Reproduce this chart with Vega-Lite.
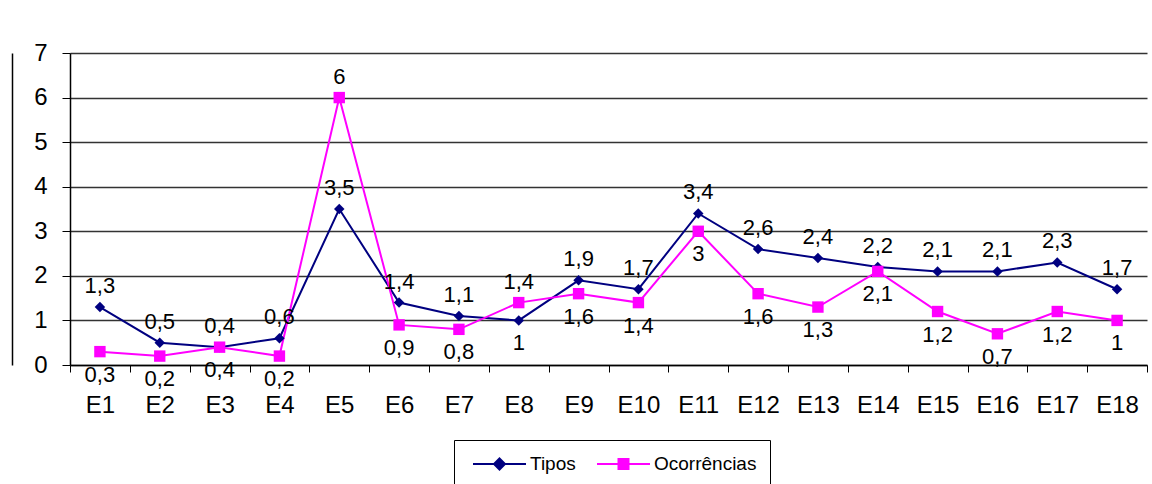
{
  "$schema": "https://vega.github.io/schema/vega-lite/v6.json",
  "width": 1077,
  "height": 312,
  "autosize": {"type": "none"},
  "padding": {"left": 70, "top": 53, "right": 5, "bottom": 119},
  "background": "white",
  "config": {
    "locale": {"number": {"decimal": ",", "thousands": ".", "grouping": [3], "currency": ["", ""]}},
    "font": "Liberation Sans",
    "view": {"stroke": null}
  },
  "data": {
    "values": [
      {"cat": "E1", "serie": "Tipos", "valor": 1.3},
      {"cat": "E2", "serie": "Tipos", "valor": 0.5},
      {"cat": "E3", "serie": "Tipos", "valor": 0.4},
      {"cat": "E4", "serie": "Tipos", "valor": 0.6},
      {"cat": "E5", "serie": "Tipos", "valor": 3.5},
      {"cat": "E6", "serie": "Tipos", "valor": 1.4},
      {"cat": "E7", "serie": "Tipos", "valor": 1.1},
      {"cat": "E8", "serie": "Tipos", "valor": 1.0},
      {"cat": "E9", "serie": "Tipos", "valor": 1.9},
      {"cat": "E10", "serie": "Tipos", "valor": 1.7},
      {"cat": "E11", "serie": "Tipos", "valor": 3.4},
      {"cat": "E12", "serie": "Tipos", "valor": 2.6},
      {"cat": "E13", "serie": "Tipos", "valor": 2.4},
      {"cat": "E14", "serie": "Tipos", "valor": 2.2},
      {"cat": "E15", "serie": "Tipos", "valor": 2.1},
      {"cat": "E16", "serie": "Tipos", "valor": 2.1},
      {"cat": "E17", "serie": "Tipos", "valor": 2.3},
      {"cat": "E18", "serie": "Tipos", "valor": 1.7},
      {"cat": "E1", "serie": "Ocorrências", "valor": 0.3},
      {"cat": "E2", "serie": "Ocorrências", "valor": 0.2},
      {"cat": "E3", "serie": "Ocorrências", "valor": 0.4},
      {"cat": "E4", "serie": "Ocorrências", "valor": 0.2},
      {"cat": "E5", "serie": "Ocorrências", "valor": 6},
      {"cat": "E6", "serie": "Ocorrências", "valor": 0.9},
      {"cat": "E7", "serie": "Ocorrências", "valor": 0.8},
      {"cat": "E8", "serie": "Ocorrências", "valor": 1.4},
      {"cat": "E9", "serie": "Ocorrências", "valor": 1.6},
      {"cat": "E10", "serie": "Ocorrências", "valor": 1.4},
      {"cat": "E11", "serie": "Ocorrências", "valor": 3},
      {"cat": "E12", "serie": "Ocorrências", "valor": 1.6},
      {"cat": "E13", "serie": "Ocorrências", "valor": 1.3},
      {"cat": "E14", "serie": "Ocorrências", "valor": 2.1},
      {"cat": "E15", "serie": "Ocorrências", "valor": 1.2},
      {"cat": "E16", "serie": "Ocorrências", "valor": 0.7},
      {"cat": "E17", "serie": "Ocorrências", "valor": 1.2},
      {"cat": "E18", "serie": "Ocorrências", "valor": 1}
    ]
  },
  "encoding": {
    "x": {
      "field": "cat",
      "type": "nominal",
      "sort": ["E1","E2","E3","E4","E5","E6","E7","E8","E9","E10","E11","E12","E13","E14","E15","E16","E17","E18"],
      "scale": {"type": "band", "paddingInner": 0, "paddingOuter": 0},
      "axis": {
        "title": null,
        "labelAngle": 0,
        "labelFontSize": 24,
        "labelColor": "black",
        "labelPadding": 21,
        "tickBand": "extent",
        "tickSize": 7,
        "tickColor": "black",
        "domainColor": "black",
        "domainWidth": 1.5,
        "grid": false
      }
    }
  },
  "layer": [
    {
      "encoding": {
        "y": {
          "field": "valor",
          "type": "quantitative",
          "scale": {"domain": [0, 7], "nice": false},
          "axis": {
            "title": null,
            "values": [0,1,2,3,4,5,6,7],
            "format": "d",
            "labelFontSize": 24,
            "labelColor": "black",
            "labelPadding": 15,
            "tickSize": 8,
            "tickColor": "black",
            "domainColor": "black",
            "domainWidth": 1.5,
            "grid": true,
            "gridColor": "#333333",
            "gridWidth": 1.3
          }
        }
      },
      "layer": [
        {
          "mark": {"type": "line", "strokeWidth": 2},
          "encoding": {
            "color": {
              "field": "serie",
              "type": "nominal",
              "sort": ["Tipos", "Ocorrências"],
              "scale": {"domain": ["Tipos", "Ocorrências"], "range": ["#000080", "#FF00FF"]},
              "legend": {
                "title": null,
                "orient": "none",
                "legendX": 384,
                "legendY": 387,
                "direction": "horizontal",
                "strokeColor": "black",
                "padding": 13,
                "symbolSize": 400,
                "symbolStrokeWidth": 2,
                "labelFontSize": 19,
                "labelColor": "black",
                "labelFont": "Liberation Sans",
                "columnPadding": 15,
                "labelOffset": 41,
                "encode": {
                  "symbols": {
                    "update": {
                      "shape": {"signal": "datum.value === 'Tipos' ? 'M-0.5,0H4.8M2.15,-0.55L2.7,0L2.15,0.55L1.6,0Z' : 'M-0.5,0H4.8M1.65,-0.5H2.65V0.5H1.65Z'"},
                      "fill": {"signal": "datum.value === 'Tipos' ? '#000080' : '#FF00FF'"},
                      "fillOpacity": {"value": 1}
                    }
                  }
                }
              }
            }
          }
        },
        {
          "transform": [{"filter": "datum.serie === 'Tipos'"}],
          "mark": {"type": "point", "shape": "diamond", "filled": true, "size": 110, "opacity": 1, "color": "#000080"}
        },
        {
          "transform": [{"filter": "datum.serie === 'Ocorrências'"}],
          "mark": {"type": "point", "shape": "square", "filled": true, "size": 130, "opacity": 1, "color": "#FF00FF"}
        },
        {
          "transform": [{"filter": "(datum.serie === 'Tipos' && datum.cat !== 'E8') || (datum.serie === 'Ocorrências' && (datum.cat === 'E5' || datum.cat === 'E8'))"}],
          "mark": {"type": "text", "dy": -21, "fontSize": 22, "color": "black", "baseline": "middle"},
          "encoding": {"text": {"field": "valor", "type": "quantitative", "format": ".1~f"}}
        },
        {
          "transform": [{"filter": "(datum.serie === 'Ocorrências' && datum.cat !== 'E5' && datum.cat !== 'E8') || (datum.serie === 'Tipos' && datum.cat === 'E8')"}],
          "mark": {"type": "text", "dy": 23, "fontSize": 22, "color": "black", "baseline": "middle"},
          "encoding": {"text": {"field": "valor", "type": "quantitative", "format": ".1~f"}}
        }
      ]
    },
    {
      "mark": {"type": "point", "opacity": 0},
      "encoding": {
        "y": {
          "field": "valor",
          "type": "quantitative",
          "scale": {"domain": [0, 7], "nice": false},
          "axis": {
            "title": null,
            "orient": "left",
            "offset": 58,
            "labels": false,
            "ticks": false,
            "grid": false,
            "domainColor": "black",
            "domainWidth": 1.5
          }
        }
      }
    }
  ],
  "resolve": {"axis": {"y": "independent"}}
}
